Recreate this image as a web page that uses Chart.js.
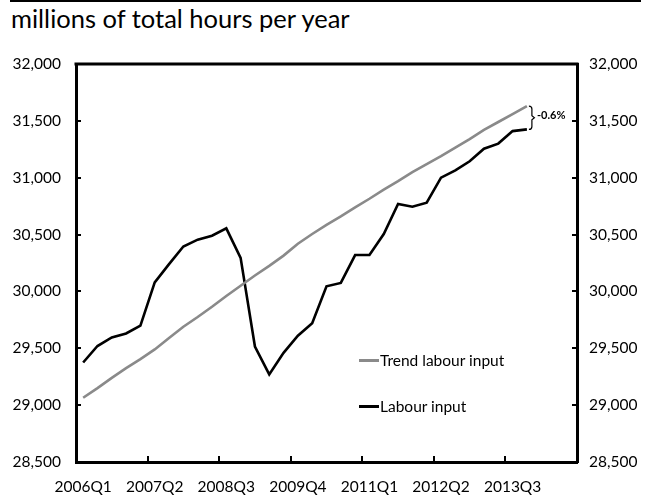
<!DOCTYPE html>
<html><head><meta charset="utf-8">
<script src="https://cdn.jsdelivr.net/npm/chart.js@4/dist/chart.umd.min.js"></script>
<style>
html,body{margin:0;padding:0;background:#fff;}
#wrap{position:relative;width:651px;height:495px;overflow:hidden;}
#topline{position:absolute;left:10px;top:0;width:631px;height:2px;background:#000;}
#title{position:absolute;left:11px;top:3px;font-family:Lato,sans-serif;font-size:25.5px;color:#000;white-space:nowrap;}
canvas{position:absolute;left:0;top:0;}
.lg{position:absolute;font-family:Lato,sans-serif;font-size:15.5px;color:#000;white-space:nowrap;line-height:18px;}
.sw{position:absolute;width:20px;height:3px;}
</style></head>
<body>
<div id="wrap">
<div id="topline"></div>
<div id="title">millions of total hours per year</div>
<canvas id="c" width="651" height="495"></canvas>
<div class="sw" style="left:359px;top:359px;background:#8a8a8a"></div>
<div class="lg" style="left:380px;top:351px">Trend labour input</div>
<div class="sw" style="left:359px;top:405px;background:#000"></div>
<div class="lg" style="left:380px;top:397px">Labour input</div>
</div>
<script>
const categories = [
 '2006Q1','2006Q2','2006Q3','2006Q4','2007Q1','2007Q2','2007Q3','2007Q4',
 '2008Q1','2008Q2','2008Q3','2008Q4','2009Q1','2009Q2','2009Q3','2009Q4',
 '2010Q1','2010Q2','2010Q3','2010Q4','2011Q1','2011Q2','2011Q3','2011Q4',
 '2012Q1','2012Q2','2012Q3','2012Q4','2013Q1','2013Q2','2013Q3','2013Q4',
 '2014Q1','2014Q2','2014Q3'];
const trendLabourInput = [
 29065,29150,29240,29325,29405,29490,29590,29690,
 29775,29865,29960,30050,30140,30225,30315,30420,
 30505,30585,30660,30740,30815,30895,30970,31050,
 31120,31190,31265,31340,31420,31490,31560,31630];
const labourInput = [
 29375,29520,29595,29630,29700,30080,30240,30395,
 30455,30490,30555,30295,29515,29270,29460,29610,
 29720,30045,30075,30320,30320,30505,30770,30745,
 30780,31000,31065,31145,31255,31300,31410,31425];
const yMin = 28500, yMax = 32000, yStep = 500;
const labelEvery = 5;
const gapLabel = '-0.6%';

const FONT = 'Lato';
const fmt = v => Number(v).toLocaleString('en-US');

const annot = {
  id: 'annot',
  afterDatasetsDraw(chart) {
    const {ctx, chartArea: a, scales: {x, y}} = chart;
    ctx.save();
    ctx.strokeStyle = '#000';
    ctx.lineWidth = 3;
    ctx.beginPath();
    ctx.moveTo(a.left - 1.5, a.top);
    ctx.lineTo(a.right + 1.5, a.top);
    ctx.stroke();
    const last = labourInput.length - 1;
    const xp = x.getPixelForValue(last) + 3;
    const y1 = y.getPixelForValue(trendLabourInput[last]);
    const y2 = y.getPixelForValue(labourInput[last]);
    const ym = (y1 + y2) / 2;
    ctx.lineWidth = 1.2;
    ctx.beginPath();
    ctx.moveTo(xp - 1, y1);
    ctx.quadraticCurveTo(xp + 2, y1, xp + 2, y1 + 3);
    ctx.lineTo(xp + 2, ym - 2);
    ctx.lineTo(xp + 4.5, ym);
    ctx.lineTo(xp + 2, ym + 2);
    ctx.lineTo(xp + 2, y2 - 3);
    ctx.quadraticCurveTo(xp + 2, y2, xp - 1, y2);
    ctx.stroke();
    ctx.fillStyle = '#000';
    ctx.font = 'bold 11px ' + FONT;
    ctx.textBaseline = 'middle';
    ctx.textAlign = 'left';
    ctx.fillText(gapLabel, xp + 7, ym - 2);
    ctx.restore();
  }
};

const yAxisCommon = {
  min: yMin, max: yMax,
  ticks: {stepSize: yStep, color: '#000', font: {family: FONT, size: 15.5}, callback: v => fmt(v)},
  grid: {drawOnChartArea: false, tickLength: -5, color: '#000', lineWidth: 2},
  border: {color: '#000', width: 3}
};

new Chart(document.getElementById('c'), {
  type: 'line',
  data: {
    labels: categories,
    datasets: [
      {label: 'Trend labour input', data: trendLabourInput, borderColor: '#8a8a8a', borderWidth: 2.6, pointRadius: 0, tension: 0, yAxisID: 'y'},
      {label: 'Labour input', data: labourInput, borderColor: '#000', borderWidth: 2.6, pointRadius: 0, tension: 0, yAxisID: 'y'}
    ]
  },
  options: {
    responsive: false,
    animation: false,
    events: [],
    layout: {padding: {top: 64, left: 0, right: 0, bottom: 0}},
    plugins: {legend: {display: false}, tooltip: {enabled: false}, title: {display: false}},
    scales: {
      x: {
        offset: true,
        ticks: {autoSkip: false, maxRotation: 0, color: '#000', padding: 22, font: {family: FONT, size: 15.5},
          callback: (v, i) => i % labelEvery === 0 ? categories[i] : ''},
        grid: {offset: true, drawOnChartArea: false, tickLength: -6, lineWidth: 2,
          color: c => (c.index !== undefined && c.index > 0 && c.index % labelEvery === 0) ? '#000' : 'rgba(0,0,0,0)'},
        border: {color: '#000', width: 3},
        afterFit: s => { s.height = 33; }
      },
      y: Object.assign({}, yAxisCommon, {position: 'left', ticks: Object.assign({}, yAxisCommon.ticks, {padding: 20}), afterFit: s => { s.width = 76; }}),
      y2: Object.assign({}, yAxisCommon, {position: 'right', ticks: Object.assign({}, yAxisCommon.ticks, {padding: 17}), afterFit: s => { s.width = 74; }})
    }
  },
  plugins: [annot]
});
</script>
</body></html>
